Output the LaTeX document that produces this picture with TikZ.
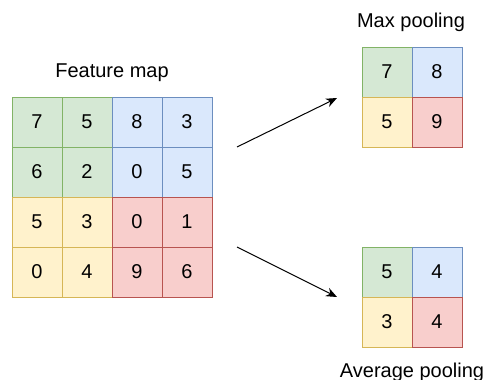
\documentclass[tikz,border=0pt]{standalone}
\usepackage{fontspec}
\setmainfont{Liberation Sans}
\usetikzlibrary{arrows.meta}
\definecolor{gfill}{HTML}{D5E8D4}\definecolor{gline}{HTML}{82B366}
\definecolor{bfill}{HTML}{DAE8FC}\definecolor{bline}{HTML}{6C8EBF}
\definecolor{yfill}{HTML}{FFF2CC}\definecolor{yline}{HTML}{D6B656}
\definecolor{rfill}{HTML}{F8CECC}\definecolor{rline}{HTML}{B85450}
\begin{document}
\begin{tikzpicture}[x=1pt,y=-1pt,
  cell/.style={minimum width=50pt,minimum height=50pt,inner sep=0pt,line width=1pt,font=\fontsize{20}{24}\selectfont},
  gc/.style={cell,fill=gfill,draw=gline},
  bc/.style={cell,fill=bfill,draw=bline},
  yc/.style={cell,fill=yfill,draw=yline},
  rc/.style={cell,fill=rfill,draw=rline},
  lbl/.style={font=\fontsize{20}{24}\selectfont,inner sep=0pt},
  arr/.style={line width=1pt,-{Stealth[length=11pt,width=9pt]}}]
\useasboundingbox (0,0) rectangle (483,380);
% Feature map
\node[lbl] (tf) at (112,73) {Feature map};
\node[gc] (f00) at (37,122) {7};
\node[gc] (f01) at (87,122) {5};
\node[gc] (f10) at (37,172) {6};
\node[gc] (f11) at (87,172) {2};
\node[bc] (f02) at (137,122) {8};
\node[bc] (f03) at (187,122) {3};
\node[bc] (f12) at (137,172) {0};
\node[bc] (f13) at (187,172) {5};
\node[yc] (f20) at (37,222) {5};
\node[yc] (f21) at (87,222) {3};
\node[yc] (f30) at (37,272) {0};
\node[yc] (f31) at (87,272) {4};
\node[rc] (f22) at (137,222) {0};
\node[rc] (f23) at (187,222) {1};
\node[rc] (f32) at (137,272) {9};
\node[rc] (f33) at (187,272) {6};
% Max pooling
\node[lbl] (tm) at (411,22) {Max pooling};
\node[gc] (m00) at (387,72) {7};
\node[bc] (m01) at (437,72) {8};
\node[yc] (m10) at (387,122) {5};
\node[rc] (m11) at (437,122) {9};
% Average pooling
\node[gc] (a00) at (387,272) {5};
\node[bc] (a01) at (437,272) {4};
\node[yc] (a10) at (387,322) {3};
\node[rc] (a11) at (437,322) {4};
\node[lbl] (ta) at (412,372) {Average pooling};
% Arrows
\coordinate (p1) at (237,147);
\coordinate (p2) at (337,98);
\coordinate (q1) at (237,247);
\coordinate (q2) at (337,297);
\draw[arr] (p1) -- (p2);
\draw[arr] (q1) -- (q2);
\end{tikzpicture}
\end{document}
